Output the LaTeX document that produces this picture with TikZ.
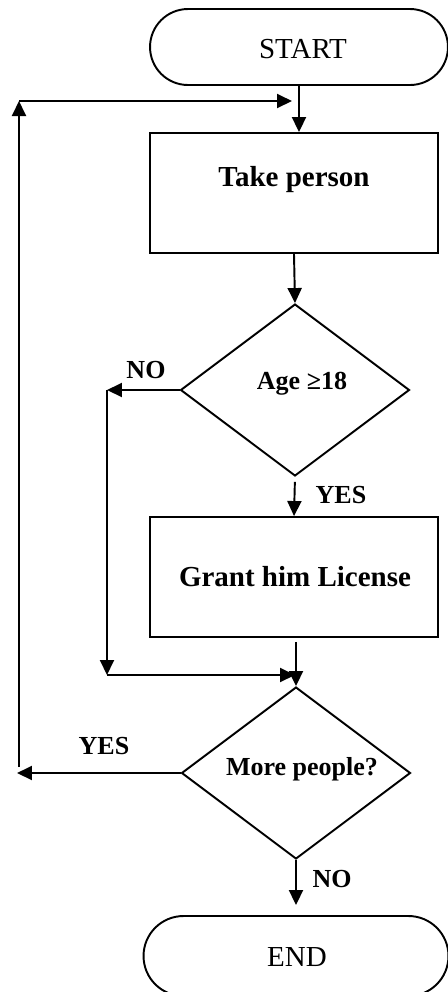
\documentclass[tikz,border=0pt]{standalone}
\usepackage{fontspec}
\setmainfont{Liberation Serif}
\usetikzlibrary{arrows.meta}
\usetikzlibrary{shapes.geometric}
\usetikzlibrary{shapes.misc}

\tikzset{
  terminal/.style={draw, rounded rectangle, minimum width=5.96cm, minimum height=1.52cm, inner sep=0pt},
  procbox/.style={draw, rectangle, minimum width=5.76cm, minimum height=2.4cm, inner sep=0pt},
  decision/.style={draw, diamond, minimum width=4.58cm, minimum height=3.44cm, inner sep=0pt},
  termtext/.style={font=\fontsize{16.5pt}{20pt}\selectfont, inner sep=0pt},
  boxtext/.style={font=\fontsize{16.5pt}{20pt}\selectfont\bfseries, inner sep=0pt},
  condtext/.style={font=\fontsize{14.8pt}{18pt}\selectfont\bfseries, inner sep=0pt},
  flowlabel/.style={font=\fontsize{14.8pt}{18pt}\selectfont\bfseries, inner sep=0pt}
}

\begin{document}
\begin{tikzpicture}[x=0.02cm, y=-0.02cm, line width=1.1pt, >={Triangle[length=3mm, width=2.8mm]}]
    \useasboundingbox (0,0) rectangle (448,992);

    \node[terminal] (start) at (299,47) {};
    \node[termtext] (starttxt) at (303,49) {START};

    \node[procbox] (take) at (294,193) {};
    \node[boxtext] (taketxt) at (294,180) {Take person};

    \node[decision] (age) at (295,390) {};
    \node[condtext] (agetxt) at (302,384) {Age ≥18};

    \node[procbox] (grant) at (294,577) {};
    \node[boxtext] (granttxt) at (295,577) {Grant him License};

    \node[decision] (more) at (296,773) {};
    \node[condtext] (moretxt) at (302,769) {More people?};

    \node[terminal, minimum width=6.1cm, minimum height=1.6cm] (end) at (296,956) {};
    \node[termtext] (endtxt) at (297,957) {END};

    \coordinate (loopbot) at (17,773);
    \coordinate (loopfoot) at (19,767);
    \coordinate (loopcorner) at (19,101);
    \coordinate (looptip) at (292,101);
    \coordinate (noleft) at (107,390);
    \coordinate (nobot) at (107,675);
    \coordinate (nojoin) at (295,675);

    \draw[->] (start.south) -- (start.south |- take.north);
    \draw[->] (take.south) -- (age.north);
    \draw[->, shorten <=0.1cm] (age.south) -- (grant.north);
    \draw[->, shorten <=0.08cm] (more.north |- grant.south) -- (more.north);
    \draw[->, shorten >=0.2cm] (more.south) -- (end.north);

    \draw[->] (age.west) -- (noleft);
    \draw[->] (noleft) -- (nobot);
    \draw[->] (nobot) -- (nojoin);

    \draw[->] (more.west) -- (loopbot);
    \draw[->] (loopfoot) -- (loopcorner);
    \draw[->] (loopcorner) -- (looptip);

    \node[flowlabel] (agenolbl) at (146,370) {NO};
    \node[flowlabel] (ageyeslbl) at (341,495) {YES};
    \node[flowlabel] (moreyeslbl) at (104,746) {YES};
    \node[flowlabel] (morenolbl) at (332,879) {NO};

  \end{tikzpicture}
\end{document}
